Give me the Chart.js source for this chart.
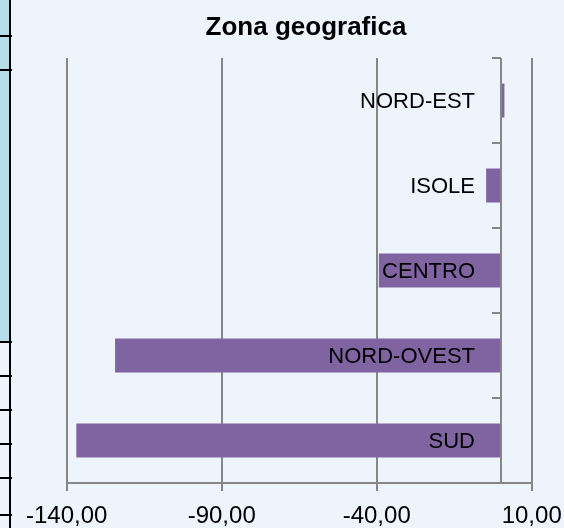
<!DOCTYPE html>
<html>
<head>
<meta charset="utf-8">
<script src="https://cdn.jsdelivr.net/npm/chart.js@4.4.1/dist/chart.umd.min.js"></script>
<style>
    body { margin: 0; background: #EEF4FC; }
    canvas { display: block; }
</style>
</head>
<body>
<canvas id="myChart" width="564" height="528"></canvas>
<script>
// dati
var zone = ['NORD-EST', 'ISOLE', 'CENTRO', 'NORD-OVEST', 'SUD'];
var valori = [1.2, -4.7, -39.3, -124.4, -136.9];
var xTicks = [-140, -90, -40, 10];
var titolo = 'Zona geografica';

var grigio = '#868686';

// disegna sfondo, striscia del foglio, titolo, asse verticale ed etichette
var extras = {
    id: 'extras',
    beforeDraw: function (chart) {
        var c = chart.ctx;
        c.save();
        c.fillStyle = '#EEF4FC';
        c.fillRect(0, 0, chart.width, chart.height);
        // celle del foglio a sinistra
        c.fillStyle = '#B7DDE8';
        c.fillRect(0, 0, 9, 342);
        c.fillStyle = '#000';
        c.fillRect(9, 0, 2, chart.height);
        var righe = [36, 70, 342, 376, 410, 444, 478, 515];
        for (var i = 0; i < righe.length; i++) {
            c.fillRect(0, righe[i] - 1, 12, 2);
        }
        // titolo
        c.font = 'bold 26px "Liberation Sans"';
        c.textAlign = 'center';
        c.textBaseline = 'alphabetic';
        c.fillText(titolo, 306, 35);
        c.restore();
    },
    afterDatasetsDraw: function (chart) {
        var c = chart.ctx;
        var x = chart.scales.x;
        var y = chart.scales.y;
        var x0 = Math.round(x.getPixelForValue(0));
        c.save();
        c.strokeStyle = grigio;
        c.lineWidth = 2;
        c.beginPath();
        c.moveTo(x0, chart.chartArea.top);
        c.lineTo(x0, chart.chartArea.bottom);
        for (var i = 0; i <= zone.length; i++) {
            var yy = Math.round(y.getPixelForValue(i - 0.5));
            c.moveTo(x0 - 9, yy);
            c.lineTo(x0, yy);
        }
        c.stroke();
        c.fillStyle = '#000';
        c.font = '22px "Liberation Sans"';
        c.textAlign = 'right';
        c.textBaseline = 'middle';
        for (var j = 0; j < zone.length; j++) {
            c.fillText(zone[j], x0 - 26, y.getPixelForValue(j) + 1);
        }
        c.restore();
    }
};

var ctx = document.getElementById('myChart').getContext('2d');
var myChart = new Chart(ctx, {
    type: 'bar',
    data: {
        labels: zone,
        datasets: [{
            data: valori,
            backgroundColor: '#8064A2',
            borderWidth: 0,
            barPercentage: 0.4,
            categoryPercentage: 1
        }]
    },
    options: {
        indexAxis: 'y',
        responsive: false,
        animation: false,
        layout: {
            padding: { left: 66.7, right: 32.3, top: 58, bottom: 0 }
        },
        plugins: {
            legend: { display: false },
            title: { display: false },
            tooltip: { enabled: false }
        },
        scales: {
            x: {
                min: -140,
                max: 10,
                afterBuildTicks: function (scale) {
                    scale.ticks = xTicks.map(function (v) { return { value: v }; });
                },
                afterFit: function (scale) {
                    scale.height = 45;
                    scale.paddingLeft = 0;
                    scale.paddingRight = 0;
                },
                grid: {
                    color: grigio,
                    lineWidth: 2,
                    tickLength: 8,
                    drawTicks: true
                },
                border: { display: true, color: grigio, width: 2 },
                ticks: {
                    padding: 11,
                    color: '#000',
                    font: { family: 'Liberation Sans', size: 24 },
                    maxRotation: 0,
                    callback: function (v) {
                        return v.toFixed(2).replace('.', ',');
                    }
                }
            },
            y: {
                display: false,
                offset: true
            }
        }
    },
    plugins: [extras]
});
</script>
</body>
</html>
